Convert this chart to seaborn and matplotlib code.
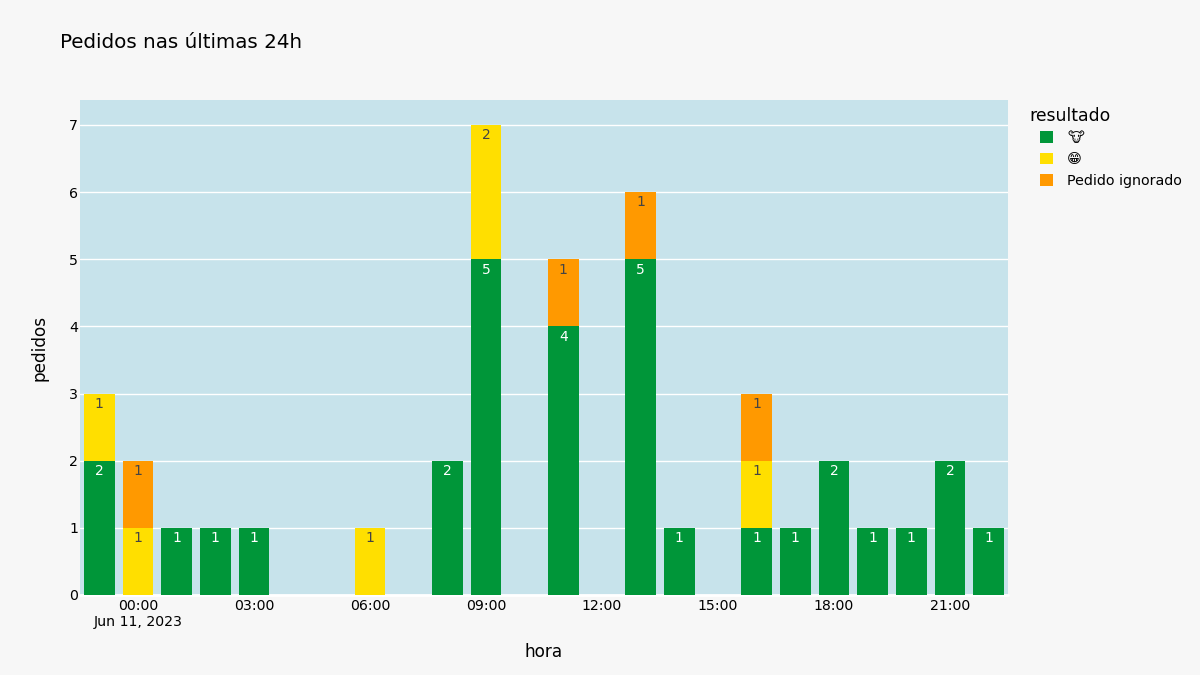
import pandas as pd
import numpy as np
import matplotlib
matplotlib.use("Agg")
import matplotlib.pyplot as plt
import seaborn as sns
from matplotlib.patches import Patch

# dados
horas = ["23:00", "00:00", "01:00", "02:00", "03:00", "04:00", "05:00", "06:00",
         "07:00", "08:00", "09:00", "10:00", "11:00", "12:00", "13:00", "14:00",
         "15:00", "16:00", "17:00", "18:00", "19:00", "20:00", "21:00", "22:00"]
boi = [2, 0, 1, 1, 1, 0, 0, 0, 0, 2, 5, 0, 4, 0, 5, 1, 0, 1, 1, 2, 1, 1, 2, 1]
risos = [1, 1, 0, 0, 0, 0, 0, 1, 0, 0, 2, 0, 0, 0, 0, 0, 0, 1, 0, 0, 0, 0, 0, 0]
ignorado = [0, 1, 0, 0, 0, 0, 0, 0, 0, 0, 0, 0, 1, 0, 1, 0, 0, 1, 0, 0, 0, 0, 0, 0]
nomes = ["\U0001F42E", "\U0001F601", "Pedido ignorado"]
cores = ["#009639", "#ffdf00", "#ff9900"]
cores_texto = ["white", "#444444", "#444444"]
ticks_x = ["00:00", "03:00", "06:00", "09:00", "12:00", "15:00", "18:00", "21:00"]
ticks_y = [0, 1, 2, 3, 4, 5, 6, 7]

sns.set_style("white")
plt.rcParams["font.family"] = ["DejaVu Sans"]
plt.rcParams["text.color"] = "black"
plt.rcParams["axes.labelcolor"] = "black"
fundo = "#f7f7f7"

fig = plt.figure(figsize=(12, 6.75), dpi=100, facecolor=fundo)
ax = fig.add_axes([80 / 1200, 1 - 595 / 675, 928 / 1200, 495 / 675], facecolor="#c7e3eb")

base = np.zeros(len(horas))
for valores, cor, cor_txt in zip([boi, risos, ignorado], cores, cores_texto):
    df = pd.DataFrame({"hora": horas, "pedidos": valores})
    sns.barplot(data=df, x="hora", y="pedidos", order=horas, color=cor, saturation=1,
                width=0.785, linewidth=0, errorbar=None, bottom=base, ax=ax, zorder=3)
    rotulos = [str(v) if v > 0 else "" for v in valores]
    ax.bar_label(ax.containers[-1], labels=rotulos, label_type="edge", padding=-12.5,
                 color=cor_txt, fontsize=10)
    base = base + np.array(valores)

ax.set_xlim(-0.5, 23.5)
ax.set_ylim(0, 7.37)
ax.set_axisbelow(True)
ax.yaxis.grid(True, color="white", linewidth=1)
ax.xaxis.grid(False)
ax.axhline(0, color="white", linewidth=2, zorder=2, clip_on=False)
sns.despine(ax=ax, left=True, bottom=True, top=True, right=True)

ax.set_xticks([horas.index(h) for h in ticks_x])
ax.set_xticklabels(["00:00\nJun 11, 2023"] + ticks_x[1:])
ax.set_yticks(ticks_y)
ax.tick_params(axis="both", length=0, labelsize=10.2, colors="black")
ax.tick_params(axis="x", pad=3)
ax.tick_params(axis="y", pad=1.5)
ax.set_xlabel("hora", fontsize=12.2, labelpad=9.5)
ax.set_ylabel("pedidos", fontsize=12.2, labelpad=15)

fig.text(60 / 1200, 1 - 43 / 675, "Pedidos nas últimas 24h", fontsize=14.3, va="center", ha="left")
fig.text(1029 / 1200, 1 - 116 / 675, "resultado", fontsize=12.4, va="center", ha="left")

handles = [Patch(facecolor=c, edgecolor="none") for c in cores]
ax.legend(handles, nomes, loc="upper left", frameon=False,
          bbox_to_anchor=(1040 / 1200, 1 - 131 / 675), bbox_transform=fig.transFigure,
          fontsize=10.3, handlelength=0.9, handleheight=0.9,
          handletextpad=1.0, labelspacing=0.52, borderaxespad=0, borderpad=0)

fig.savefig("out.png", dpi=100, facecolor=fundo)
